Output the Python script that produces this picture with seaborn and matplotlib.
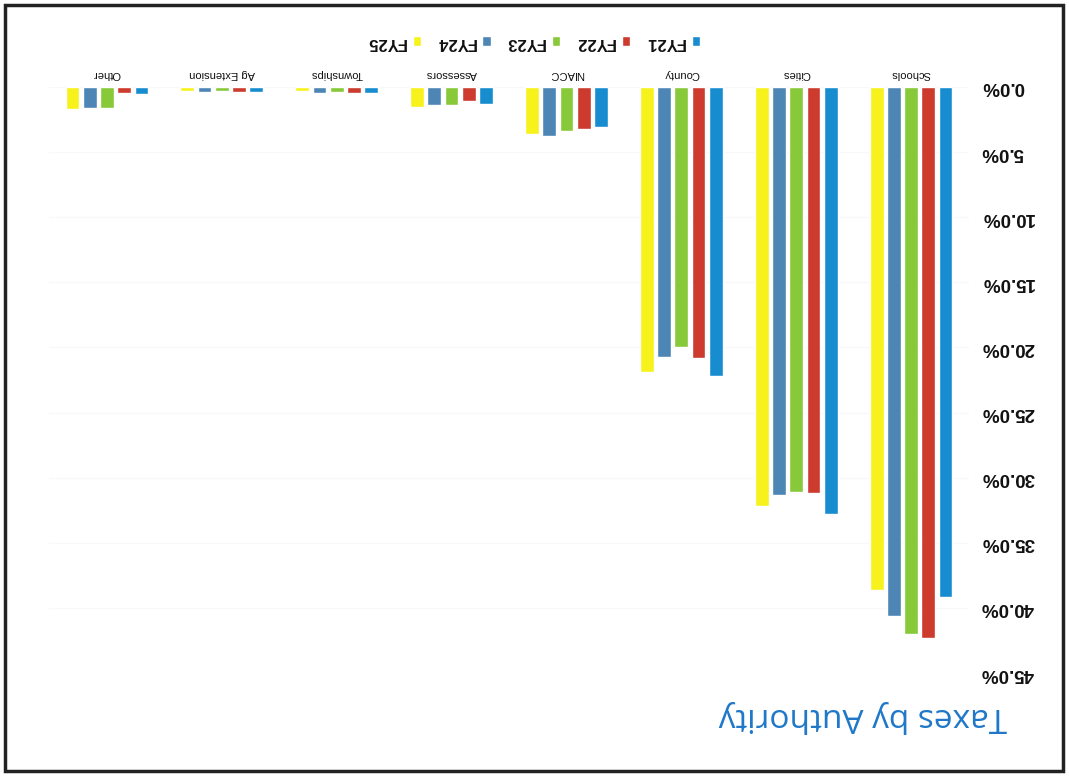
import matplotlib
matplotlib.use("Agg")
import matplotlib.pyplot as plt
import seaborn as sns
import pandas as pd
from matplotlib.patches import Rectangle
from matplotlib.ticker import FuncFormatter, MultipleLocator

categories = ["Schools", "Cities", "County", "NIACC", "Assessors", "Townships", "Ag Extension", "Other"]
years = ["FY21", "FY22", "FY23", "FY24", "FY25"]
fy21 = [39.2, 32.8, 22.2, 3.1, 1.3, 0.45, 0.4, 0.5]
fy22 = [42.3, 31.2, 20.8, 3.2, 1.1, 0.45, 0.4, 0.45]
fy23 = [42.0, 31.1, 20.0, 3.35, 1.35, 0.35, 0.3, 1.6]
fy24 = [40.6, 31.3, 20.7, 3.8, 1.4, 0.45, 0.4, 1.6]
fy25 = [38.6, 32.2, 21.9, 3.6, 1.5, 0.3, 0.3, 1.7]
colors = ["#178dd0", "#cc3b2e", "#88c93a", "#4d86b5", "#f7f21c"]
title = "Taxes by Authority"

series = [fy21, fy22, fy23, fy24, fy25]
rows = []
for y, vals in zip(years, series):
    for c, v in zip(categories, vals):
        rows.append({"Authority": c, "Year": y, "Share": v})
df = pd.DataFrame(rows)

sns.set_theme(style="white")
plt.rcParams["font.family"] = ["Liberation Sans", "DejaVu Sans"]

fig = plt.figure(figsize=(10.69, 7.76), dpi=100)
ax = fig.add_axes([0.0463, 0.1327, 0.8597, 0.7552])

sns.barplot(data=df, x="Authority", y="Share", hue="Year", order=categories,
            hue_order=years, palette=colors, width=0.75, gap=0.2,
            saturation=1, ax=ax, legend=True)

# the scanned page is upside-down: flip both axes
ax.set_ylim(45, 0)
ax.set_xlim(len(categories) - 0.5, -0.5)
ax.yaxis.set_major_locator(MultipleLocator(5))
ax.yaxis.set_major_formatter(FuncFormatter(lambda v, p: f"{v:.1f}%"))
ax.yaxis.tick_right()
ax.xaxis.tick_top()
ax.tick_params(axis="y", length=0, pad=9, labelsize=13.5)
ax.tick_params(axis="x", length=0, pad=6, labelsize=8)
for t in ax.get_yticklabels():
    t.set_rotation(180)
    t.set_fontweight("bold")
    t.set_color("#111111")
    t.set_va("center")
for t in ax.get_xticklabels():
    t.set_rotation(180)
    t.set_color("#111111")
ax.set_xlabel("")
ax.set_ylabel("")
for s in ax.spines.values():
    s.set_visible(False)
ax.grid(axis="y", color="#f8f8f8", lw=0.8)
ax.set_axisbelow(True)

handles, labels = ax.get_legend_handles_labels()
ax.legend_.remove()
leg = fig.legend(handles[::-1], labels[::-1], loc="center", bbox_to_anchor=(533 / 1069, 1 - 42.5 / 776),
                 ncol=5, frameon=False, markerfirst=False, handlelength=0.5, handleheight=0.5,
                 handletextpad=0.4, columnspacing=0.9,
                 prop={"size": 12, "weight": "bold"})
for t in leg.get_texts():
    t.set_rotation(180)
    t.set_color("#111111")

fig.text(1007 / 1069, 1 - 716 / 776, title, rotation=180, ha="right", va="center",
         fontsize=24, color="#1e78c8", family=["Open Sans", "DejaVu Sans"])

fig.patches.append(Rectangle((5 / 1069, 5 / 776), 1058 / 1069, 766 / 776, transform=fig.transFigure,
                             fill=False, lw=2.5, ec="#222222"))

fig.savefig("out.png", dpi=100)
